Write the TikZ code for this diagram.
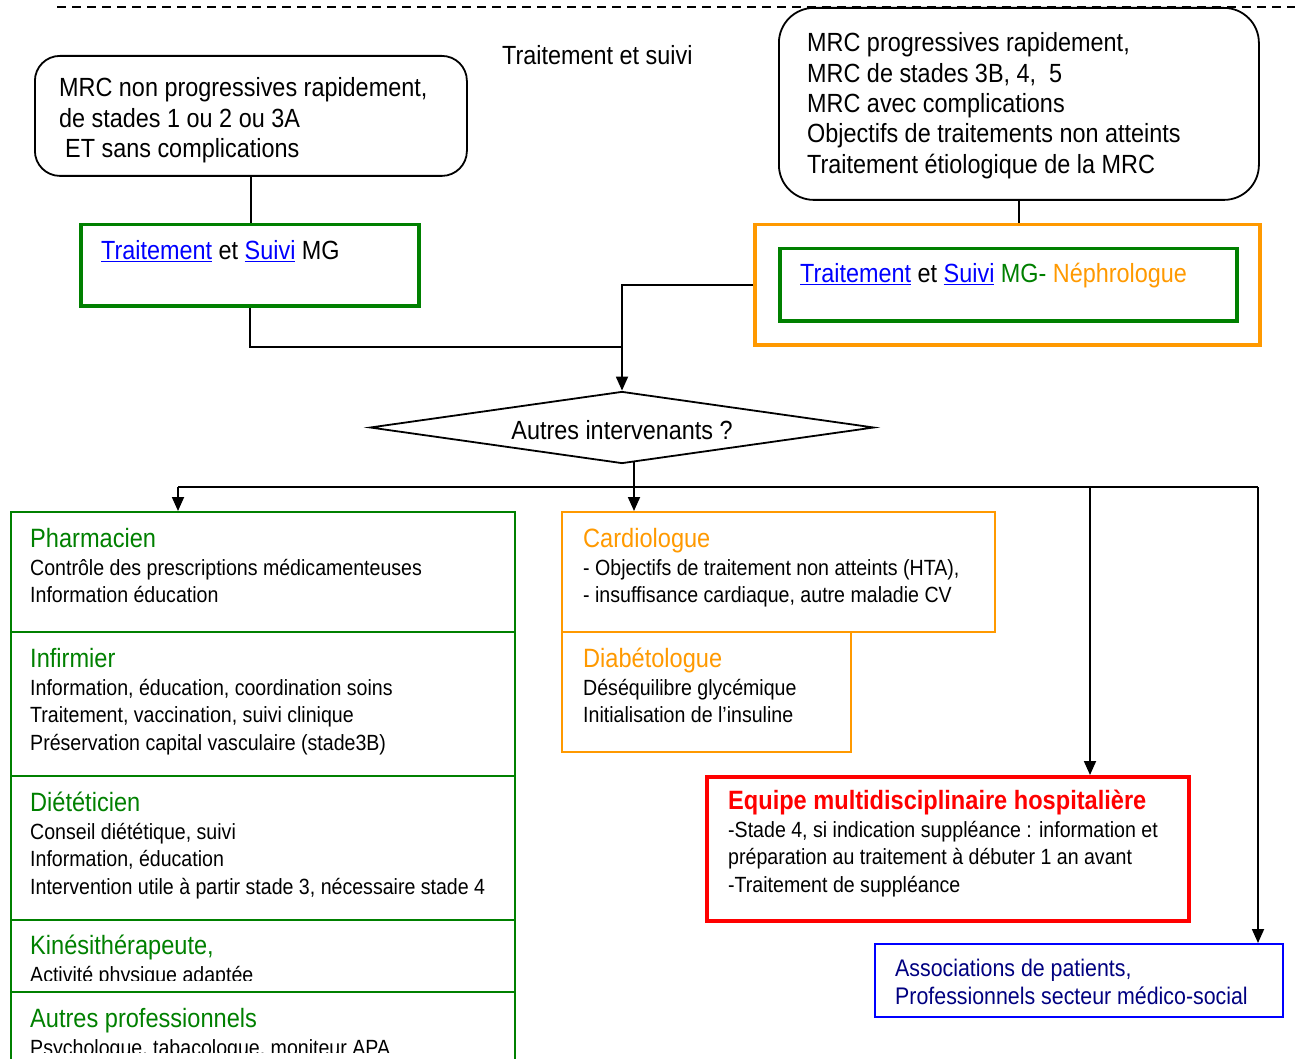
\documentclass[tikz,border=0pt]{standalone}
\usepackage{fontspec}
\setmainfont{Liberation Sans}[FakeStretch=0.89]
\usetikzlibrary{arrows.meta,shapes.geometric,calc}
\definecolor{mgreen}{RGB}{0,128,0}
\definecolor{morange}{RGB}{255,153,0}
\definecolor{mred}{RGB}{255,0,0}
\definecolor{mblue}{RGB}{0,0,255}
\definecolor{mnavy}{RGB}{0,0,128}
\newcommand{\lnk}[1]{\textcolor{mblue}{\underline{#1}}}
\begin{document}
\begin{tikzpicture}[x=1pt,y=-1pt,
  txt/.style={anchor=base west, inner sep=0, align=left, font=\fontsize{22}{27.5}\selectfont},
  toptxt/.style={anchor=base west, inner sep=0, align=left, font=\fontsize{26.3}{30.3}\selectfont},
  headtxt/.style={anchor=base west, inner sep=0, font=\fontsize{26.5}{30}\selectfont},
  boxn/.style={anchor=north west, inner sep=0, draw},
  conn/.style={line width=1.8pt},
  arr/.style={conn, -{Triangle[width=12pt,length=14pt]}}
]
\useasboundingbox (0,0) rectangle (1295,1059);
\clip (0,0) rectangle (1295,1059);

% top dashed line
\draw[line width=1.2pt, dash pattern=on 9pt off 6pt] (57,7) -- (1295,7);

% top boxes
\node[boxn, rounded corners=25pt, line width=1.8pt, minimum width=432pt, minimum height=120pt] (A) at (34,55) {};
\node[boxn, draw=mgreen, line width=3.5pt, minimum width=338pt, minimum height=81pt] (MG) at (79,223) {};
\node[boxn, fill=white, rounded corners=35pt, line width=1.8pt, minimum width=480pt, minimum height=192pt] (B) at (778,7) {};
\node[boxn, draw=morange, line width=3.5pt, minimum width=505pt, minimum height=120pt] (OR) at (753,223) {};
\node[boxn, draw=mgreen, line width=3.5pt, minimum width=457pt, minimum height=72pt] (IG) at (778,247) {};

% base anchor = baseline of the LAST line of each block
\node[toptxt] (title) at (502,65) {Traitement et suivi};
\node[toptxt] (Atxt) at (59,157.6) {MRC non progressives rapidement,\\de stades 1 ou 2 ou 3A\\\hspace*{6pt}ET sans complications};
\node[toptxt] (MGtxt) at (101,260) {\lnk{Traitement} et \lnk{Suivi} MG};
\node[toptxt] (Btxt) at (807,173.2) {MRC progressives rapidement,\\MRC de stades 3B, 4,\ \ 5\\MRC avec complications\\Objectifs de traitements non atteints\\Traitement étiologique de la MRC};
\node[toptxt] (IGtxt) at (800,283) {\lnk{Traitement} et \lnk{Suivi} \textcolor{mgreen}{MG-} \textcolor{morange}{Néphrologue}};

% diamond
\node[draw, diamond, shape aspect=7, line width=1.8pt, inner sep=0, minimum width=504pt, minimum height=72pt,
      font=\fontsize{26.3}{30}\selectfont] (dia) at (622,427.5) {\raisebox{-3pt}[\height][\depth]{Autres intervenants ?}};

% lower-left boxes
\node[boxn, draw=mgreen, line width=2.2pt, minimum width=504pt, minimum height=120pt] (ph) at (10,511) {};
\node[boxn, draw=mgreen, line width=2.2pt, minimum width=504pt, minimum height=144pt] (inf) at (10,631) {};
\node[boxn, draw=mgreen, line width=2.2pt, minimum width=504pt, minimum height=144pt] (die) at (10,775) {};
\node[boxn, draw=mgreen, line width=2.2pt, minimum width=504pt, minimum height=72pt] (kin) at (10,919) {};
\node[boxn, draw=mgreen, line width=2.2pt, minimum width=504pt, minimum height=110pt] (aut) at (10,991) {};

% middle boxes
\node[boxn, draw=morange, line width=2pt, minimum width=433pt, minimum height=120pt] (card) at (561,511) {};
\node[boxn, draw=morange, line width=2pt, minimum width=289pt, minimum height=120pt] (diab) at (561,631) {};
\node[boxn, draw=mred, line width=3.5pt, minimum width=482pt, minimum height=144pt] (eq) at (705,775) {};
\node[boxn, draw=mblue, line width=2pt, minimum width=408pt, minimum height=73pt] (as) at (874,943) {};

% texts lower-left
\node[headtxt, text=mgreen] (phh) at (30,547) {Pharmacien};
\node[txt] (phb) at (30,602.5) {Contrôle des prescriptions médicamenteuses\\Information éducation};
\node[headtxt, text=mgreen] (infh) at (30,667) {Infirmier};
\node[txt] (infb) at (30,750) {Information, éducation, coordination soins\\Traitement, vaccination, suivi clinique\\Préservation capital vasculaire (stade3B)};
\node[headtxt, text=mgreen] (dieh) at (30,811) {Diététicien};
\node[txt] (dieb) at (30,894) {Conseil diététique, suivi\\Information, éducation\\Intervention utile à partir stade 3, nécessaire stade 4};
\node[headtxt, text=mgreen] (kinh) at (30,954) {Kinésithérapeute,};
\begin{scope}
\clip (10,919) rectangle (514,980);
\node[txt] (kinb) at (30,982) {Activité physique adaptée};
\end{scope}
\node[headtxt, text=mgreen] (auth) at (30,1027) {Autres professionnels};
\begin{scope}
\clip (10,991) rectangle (514,1052);
\node[txt] (autb) at (30,1055) {Psychologue, tabacologue, moniteur APA};
\end{scope}

% texts middle
\node[headtxt, text=morange] (cardh) at (583,547) {Cardiologue};
\node[txt] (cardb) at (583,602.5) {- Objectifs de traitement non atteints (HTA),\\- insuffisance cardiaque, autre maladie CV};
\node[headtxt, text=morange] (diabh) at (583,667) {Diabétologue};
\node[txt] (diabb) at (583,722.5) {Déséquilibre glycémique\\Initialisation de l’insuline};
\node[anchor=base west, inner sep=0, text=mred, font=\fontsize{26.5}{30}\selectfont\bfseries] (eqh) at (728,809) {Equipe multidisciplinaire hospitalière};
\node[txt] (eqb) at (728,892) {-Stade 4, si indication suppléance : information et\\préparation au traitement à débuter 1 an avant\\-Traitement de suppléance};
\node[anchor=base west, inner sep=0, align=left, text=mnavy, font=\fontsize{24}{28}\selectfont] (ast) at (895,1004) {Associations de patients,\\Professionnels secteur médico-social};

% connectors
\coordinate (J) at (622,347);
\coordinate (dout) at (634,461.5);
\coordinate (hm) at (634,487);
\coordinate (hl) at (178,487);
\coordinate (hq) at (1090,487);
\coordinate (hr) at (1258,487);
\draw[conn] (A.south) -- (A.south |- MG.north);
\draw[conn] (B.south) -- (B.south |- OR.north);
\draw[conn] (MG.south) |- (J);
\draw[arr] (OR.west) -| (dia.north);
\draw[conn] (dout) -- (hm);
\draw[conn] (hl) -- (hr);
\draw[arr] (hl) -- (hl |- ph.north);
\draw[arr] (hm) -- (hm |- card.north);
\draw[arr] (hq) -- (hq |- eq.north);
\draw[arr] (hr) -- (hr |- as.north);
\end{tikzpicture}
\end{document}
